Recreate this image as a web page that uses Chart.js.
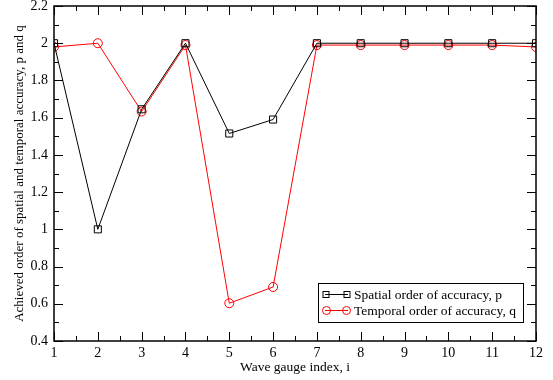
<!DOCTYPE html>
<html>
<head>
<meta charset="utf-8">
<script src="https://cdn.jsdelivr.net/npm/chart.js@4/dist/chart.umd.min.js"></script>
<style>
  html, body { margin: 0; padding: 0; background: #fff; }
  #wrap { width: 553px; height: 380px; }
</style>
</head>
<body>
<div id="wrap"><canvas id="orderChart" width="553" height="380"></canvas></div>
<script>
// Gauge indices and the measured orders of accuracy
const gauges = [1, 2, 3, 4, 5, 6, 7, 8, 9, 10, 11, 12];
const spatialP = [2.0, 1.0, 1.645, 2.0, 1.515, 1.59, 2.0, 2.0, 2.0, 2.0, 2.0, 2.0];
const temporalQ = [1.98, 2.0, 1.633, 1.99, 0.603, 0.69, 1.99, 1.99, 1.99, 1.99, 1.99, 1.98];
const seriesNames = ["Spatial order of accuracy, p", "Temporal order of accuracy, q"];

const serif = "'Liberation Serif', 'DejaVu Serif', serif";

// frame, inward ticks (mirrored on all sides) and the boxed legend
const framePlugin = {
  id: "frame",
  afterDraw(chart) {
    const { ctx, chartArea: a, scales } = chart;
    const xs = scales.x, ys = scales.y;
    ctx.save();
    ctx.strokeStyle = "#000";
    ctx.lineWidth = 1.5;
    ctx.strokeRect(a.left, a.top, a.right - a.left, a.bottom - a.top);

    ctx.lineWidth = 1;
    ctx.beginPath();
    for (let v = 1; v <= 12.001; v += 0.5) {
      const px = Math.round(xs.getPixelForValue(v)) + 0.5;
      const len = Math.abs(v - Math.round(v)) < 0.01 ? 9 : 5;
      ctx.moveTo(px, a.bottom); ctx.lineTo(px, a.bottom - len);
      ctx.moveTo(px, a.top); ctx.lineTo(px, a.top + len);
    }
    for (let i = 4; i <= 22; i++) {
      const py = Math.round(ys.getPixelForValue(i / 10)) + 0.5;
      const len = i % 2 === 0 ? 9 : 5;
      ctx.moveTo(a.left, py); ctx.lineTo(a.left + len, py);
      ctx.moveTo(a.right, py); ctx.lineTo(a.right - len, py);
    }
    ctx.stroke();

    // legend
    const bx = 318.5, by = 283.5, bw = 205, bh = 39;
    ctx.lineWidth = 1;
    ctx.strokeRect(bx, by, bw, bh);
    ctx.font = "13.5px " + serif;
    ctx.textBaseline = "middle";
    chart.data.datasets.forEach((ds, k) => {
      const y = by + 11 + k * 16;
      ctx.strokeStyle = ds.borderColor;
      ctx.beginPath();
      ctx.moveTo(325, y); ctx.lineTo(348, y);
      ctx.stroke();
      if (ds.pointStyle === "rect") {
        ctx.strokeRect(323, y - 3, 6, 6);
        ctx.strokeRect(344, y - 3, 6, 6);
      } else {
        ctx.beginPath(); ctx.arc(326.5, y, 4, 0, Math.PI * 2); ctx.stroke();
        ctx.beginPath(); ctx.arc(346.5, y, 4, 0, Math.PI * 2); ctx.stroke();
      }
      ctx.fillStyle = "#000";
      ctx.fillText(ds.label, 354, y + 1);
    });
    ctx.restore();
  }
};

const ctx = document.getElementById("orderChart").getContext("2d");
new Chart(ctx, {
  type: "line",
  data: {
    datasets: [
      {
        label: seriesNames[0],
        data: gauges.map((g, i) => ({ x: g, y: spatialP[i] })),
        borderColor: "#000",
        borderWidth: 1,
        pointStyle: "rect",
        pointRadius: 5,
        pointBorderWidth: 1,
        pointBorderColor: "#000",
        pointBackgroundColor: "rgba(0,0,0,0)",
        tension: 0
      },
      {
        label: seriesNames[1],
        data: gauges.map((g, i) => ({ x: g, y: temporalQ[i] })),
        borderColor: "#ff0000",
        borderWidth: 1,
        pointStyle: "circle",
        pointRadius: 4.5,
        pointBorderWidth: 1,
        pointBorderColor: "#ff0000",
        pointBackgroundColor: "rgba(0,0,0,0)",
        tension: 0
      }
    ]
  },
  options: {
    responsive: false,
    animation: false,
    layout: { padding: { left: 0, right: 17, top: 2, bottom: 0 } },
    plugins: { legend: { display: false }, tooltip: { enabled: false } },
    scales: {
      x: {
        type: "linear",
        min: 1, max: 12,
        grid: { display: false, drawTicks: false },
        border: { display: false },
        ticks: {
          stepSize: 1, padding: 4, color: "#000",
          font: { family: serif, size: 14 }
        },
        title: {
          display: true, text: "Wave gauge index, i", color: "#000",
          font: { family: serif, size: 13.5 }, padding: { top: 0, bottom: 4 }
        },
        afterFit(s) { s.height = 39; s.paddingLeft = 0; s.paddingRight = 0; }
      },
      y: {
        min: 0.4, max: 2.2,
        grid: { display: false, drawTicks: false },
        border: { display: false },
        ticks: {
          stepSize: 0.2, padding: 6, color: "#000",
          font: { family: serif, size: 14 },
          callback: v => String(Number(v.toFixed(1)))
        },
        title: {
          display: true, text: "Achieved order of spatial and temporal accuracy, p and q",
          color: "#000", font: { family: serif, size: 13 }, padding: { top: 12, bottom: 0 }
        },
        afterFit(s) { s.width = 54; s.paddingTop = 0; s.paddingBottom = 0; }
      }
    }
  },
  plugins: [framePlugin]
});
</script>
</body>
</html>
